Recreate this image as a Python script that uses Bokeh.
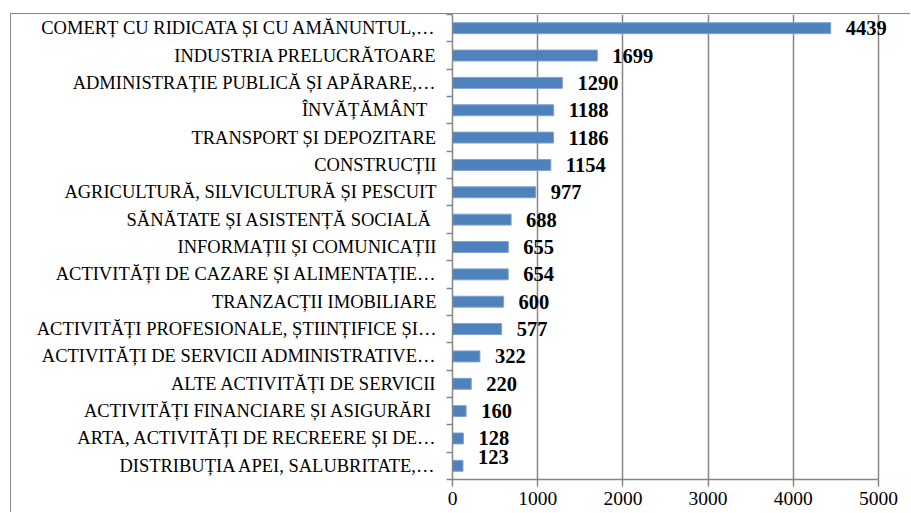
from bokeh.plotting import figure
from bokeh.models import FixedTicker, ColumnDataSource, Range1d, LabelSet
from bokeh.core.properties import value
from bokeh.embed import file_html
from bokeh.resources import INLINE

categories = [
    "COMERȚ CU RIDICATA ȘI CU AMĂNUNTUL,…",
    "INDUSTRIA PRELUCRĂTOARE",
    "ADMINISTRAȚIE PUBLICĂ ȘI APĂRARE,…",
    "ÎNVĂȚĂMÂNT  ",
    "TRANSPORT ȘI DEPOZITARE",
    "CONSTRUCȚII",
    "AGRICULTURĂ, SILVICULTURĂ ȘI PESCUIT",
    "SĂNĂTATE ȘI ASISTENȚĂ SOCIALĂ ",
    "INFORMAȚII ȘI COMUNICAȚII",
    "ACTIVITĂȚI DE CAZARE ȘI ALIMENTAȚIE…",
    "TRANZACȚII IMOBILIARE",
    "ACTIVITĂȚI PROFESIONALE, ȘTIINȚIFICE ȘI…",
    "ACTIVITĂȚI DE SERVICII ADMINISTRATIVE…",
    "ALTE ACTIVITĂȚI DE SERVICII",
    "ACTIVITĂȚI FINANCIARE ȘI ASIGURĂRI ",
    "ARTA, ACTIVITĂȚI DE RECREERE ȘI DE…",
    "DISTRIBUȚIA APEI, SALUBRITATE,…",
]
values = [4439, 1699, 1290, 1188, 1186, 1154, 977, 688, 655, 654, 600, 577, 322, 220, 160, 128, 123]
x_ticks = [0, 1000, 2000, 3000, 4000, 5000]

n = len(categories)
ypos = [n - i - 0.5 for i in range(n)]
# the smallest value's label is nudged upward (as in the original, to avoid overlap)
dy = [9 if i == n - 1 else 0 for i in range(n)]

src = ColumnDataSource(dict(y=ypos, v=values, lab=[str(v) for v in values], dy=dy))

GRAY = "#868686"
FONT = "Liberation Serif"

# layout geometry (pixels): axis 0 at x=452, 5000 at x=878, canvas right edge at 911
AX0, AX1, RIGHT = 452, 878, 911
x_max = x_ticks[-1]
x_end = x_max * (RIGHT - AX0) / (AX1 - AX0)  # let the frame run past 5000 so labels are not clipped

p = figure(
    width=900, height=499,
    x_range=Range1d(0, x_end), y_range=Range1d(0, n),
    output_backend="svg", toolbar_location=None,
    min_border_left=441, min_border_right=0, min_border_top=0, min_border_bottom=34,
)
p.styles = {"margin": "14px 0px 0px 11px", "box-shadow": "-1px -1px 0px 0px #868686"}
p.outline_line_color = None

p.hbar(y="y", right="v", left=0, height=0.4, source=src,
       fill_color="#4F81BD", line_color="#7FA3D0", line_width=1)

labels = LabelSet(x="v", y="y", text="lab", source=src, x_offset=15, y_offset="dy",
                  text_align="left", text_baseline="middle",
                  text_font=value(FONT), text_font_style="bold", text_font_size="20.5px",
                  text_color="black")
p.add_layout(labels)

# x axis
xa = p.xaxis[0]
xa.ticker = FixedTicker(ticks=x_ticks)
xa.bounds = (0, x_max)
xa.axis_line_color = GRAY
xa.axis_line_width = 1.5
xa.major_tick_line_color = GRAY
xa.major_tick_line_width = 1.5
xa.major_tick_out = 7
xa.major_tick_in = 0
xa.minor_tick_line_color = None
xa.major_label_standoff = 5
xa.major_label_text_font = FONT
xa.major_label_text_font_size = "19.5px"
xa.major_label_text_color = "black"

# y axis with labels at bar centers and tick marks between categories
ya = p.yaxis[0]
ya.ticker = FixedTicker(ticks=ypos, minor_ticks=list(range(n + 1)))
ya.major_label_overrides = {y: c for y, c in zip(ypos, categories)}
ya.axis_line_color = GRAY
ya.axis_line_width = 1.5
ya.major_tick_line_color = None
ya.major_tick_out = 0
ya.major_tick_in = 0
ya.minor_tick_line_color = GRAY
ya.minor_tick_line_width = 1.5
ya.minor_tick_out = 6
ya.minor_tick_in = 0
ya.major_label_standoff = 10
ya.major_label_text_font = FONT
ya.major_label_text_font_size = "18.5px"
ya.major_label_text_color = "black"

p.xgrid.ticker = FixedTicker(ticks=x_ticks)
p.xgrid.grid_line_color = GRAY
p.xgrid.grid_line_width = 1.5
p.ygrid.grid_line_color = None

open("out.html", "w").write(file_html(p, INLINE))
